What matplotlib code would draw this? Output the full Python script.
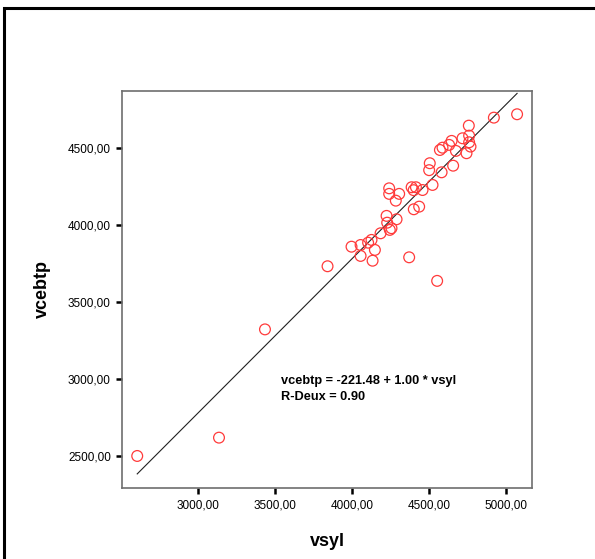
import numpy as np
import matplotlib
matplotlib.use('Agg')
import matplotlib.pyplot as plt
from matplotlib.ticker import FuncFormatter
from matplotlib.patches import Rectangle

plt.rcParams['font.family'] = ['Liberation Sans', 'DejaVu Sans']

# data
vsyl = [2603, 3135, 3434, 3841, 3997, 4056, 4056, 4105, 4127, 4134,
        4149, 4186, 4246, 4257, 4229, 4290, 4225, 4372, 4554, 4402,
        4437, 4285, 4242, 4242, 4307, 4388, 4416, 4459, 4401, 4524,
        4502, 4506, 4583, 4658, 4572, 4589, 4632, 4648, 4676, 4719,
        4745, 4762, 4771, 4762, 4760, 4923, 5074]
vcebtp = [2498, 2617, 3320, 3730, 3857, 3868, 3797, 3883, 3901, 3766,
          3836, 3944, 3966, 3977, 4013, 4035, 4057, 3788, 3635, 4100,
          4117, 4156, 4200, 4236, 4200, 4243, 4243, 4225, 4224, 4258,
          4354, 4399, 4340, 4383, 4485, 4500, 4518, 4544, 4479, 4561,
          4464, 4535, 4507, 4578, 4643, 4695, 4717]
intercept = -221.48
slope = 1.00
r2 = 0.90
xticks = [3000, 3500, 4000, 4500, 5000]
yticks = [2500, 3000, 3500, 4000, 4500]

fig = plt.figure(figsize=(5.95, 5.59), dpi=100)
fig.patches.append(Rectangle((4 / 595, -0.05), 1.1, 1 - 8 / 559 + 0.05,
                             transform=fig.transFigure, fill=False,
                             edgecolor='black', linewidth=2.2))

ax = fig.add_axes([122 / 595, 1 - 488 / 559, 410 / 595, 397 / 559])

ax.scatter(vsyl, vcebtp, s=60, facecolors='none', edgecolors='#ff3a3a',
           linewidths=0.9, zorder=3)

xs = np.array([min(vsyl), max(vsyl)])
ax.plot(xs, intercept + slope * xs, color='#202020', linewidth=0.8, zorder=2)

ax.set_xlim(2504, 5171)
ax.set_ylim(2290, 4868)
ax.set_xticks(xticks)
ax.set_yticks(yticks)
fmt = FuncFormatter(lambda v, p: '{:.2f}'.format(v).replace('.', ','))
ax.xaxis.set_major_formatter(fmt)
ax.yaxis.set_major_formatter(fmt)
ax.tick_params(direction='out', length=4, width=1.8, color='black',
               labelsize=8.5, pad=4)
for s in ax.spines.values():
    s.set_color('#6e6e6e')
    s.set_linewidth(1.2)

ax.set_xlabel('vsyl', fontsize=13, fontweight='bold', labelpad=16)
ax.set_ylabel('vcebtp', fontsize=13, fontweight='bold', labelpad=12)

ax.text(0.387, 0.285, 'vcebtp = {:.2f} + {:.2f} * vsyl\nR-Deux = {:.2f}'.format(intercept, slope, r2),
        transform=ax.transAxes, fontsize=9.2, fontweight='bold',
        va='top', ha='left', linespacing=1.45)

fig.savefig('out.png', dpi=100)
